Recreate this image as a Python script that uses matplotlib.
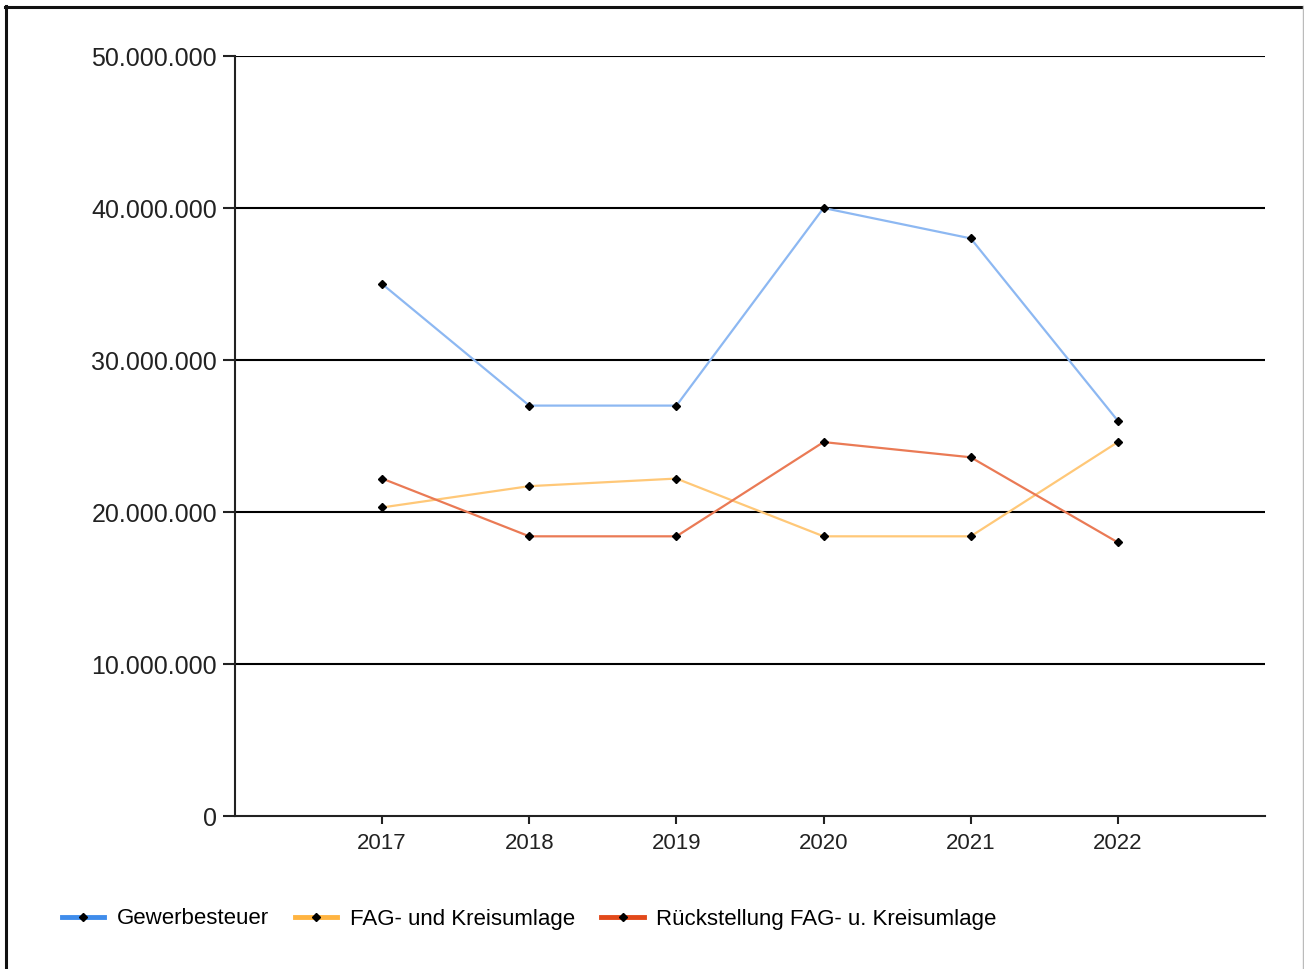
import matplotlib
matplotlib.use("Agg")
import matplotlib.pyplot as plt
from matplotlib.lines import Line2D
from matplotlib.ticker import FuncFormatter

years = [2017, 2018, 2019, 2020, 2021, 2022]
gewerbesteuer = [35.0e6, 27.0e6, 27.0e6, 40.0e6, 38.0e6, 26.0e6]
fag_kreisumlage = [20.3e6, 21.7e6, 22.2e6, 18.4e6, 18.4e6, 24.6e6]
rueckstellung = [22.2e6, 18.4e6, 18.4e6, 24.6e6, 23.6e6, 18.0e6]
series_names = ["Gewerbesteuer", "FAG- und Kreisumlage", "Rückstellung FAG- u. Kreisumlage"]
line_colors = ["#8DB8F2", "#FFC878", "#EA7A55"]
legend_colors = ["#3F8CEB", "#FFB441", "#E2491A"]
y_ticks = [0, 10e6, 20e6, 30e6, 40e6, 50e6]

plt.rcParams['font.family'] = ['Liberation Sans', 'DejaVu Sans']

fig = plt.figure(figsize=(13.04, 9.69), dpi=100)
ax = fig.add_axes([235/1304, 1-816/969, (1265-235)/1304, (816-56)/969])

for vals, col in zip([gewerbesteuer, fag_kreisumlage, rueckstellung], line_colors):
    ax.plot(years, vals, color=col, lw=1.6, marker='D', ms=4.5,
            markerfacecolor='black', markeredgecolor='black', zorder=3)

ax.set_xlim(2016, 2023)
ax.set_ylim(0, 50e6)
ax.set_yticks(y_ticks)
ax.set_xticks(years)
ax.yaxis.set_major_formatter(FuncFormatter(lambda v, p: f"{int(v):,}".replace(",", ".")))
for y in y_ticks[1:]:
    ax.axhline(y, color='black', lw=1.5, zorder=1)
for s in ['top', 'right']:
    ax.spines[s].set_visible(False)
for s in ['left', 'bottom']:
    ax.spines[s].set_linewidth(1.5)
    ax.spines[s].set_color('#222222')
ax.tick_params(axis='y', length=9, width=1.5, labelsize=18, pad=4, colors='#222222')
ax.tick_params(axis='x', length=6, width=1.5, labelsize=16, pad=6, colors='#222222')

handles = [Line2D([0], [0], color=c, lw=3.5, marker='D', ms=4.5,
                  markerfacecolor='black', markeredgecolor='black') for c in legend_colors]
fig.legend(handles, series_names, loc='center left', bbox_to_anchor=(62/1304, 1-919/969),
           ncol=3, frameon=False, fontsize=16, handlelength=1.9, handletextpad=0.55,
           columnspacing=1.2, borderaxespad=0, borderpad=0)

# outer frame
fig.add_artist(Line2D([5/1304, 1], [1-6.5/969, 1-6.5/969], color='#111111', lw=2.2, transform=fig.transFigure))
fig.add_artist(Line2D([5.5/1304, 5.5/1304], [0, 1-6/969], color='#111111', lw=2.2, transform=fig.transFigure))
fig.add_artist(Line2D([1303/1304, 1303/1304], [0, 1-6/969], color='#BBBBBB', lw=1, transform=fig.transFigure))

fig.savefig("out.png", dpi=100)
